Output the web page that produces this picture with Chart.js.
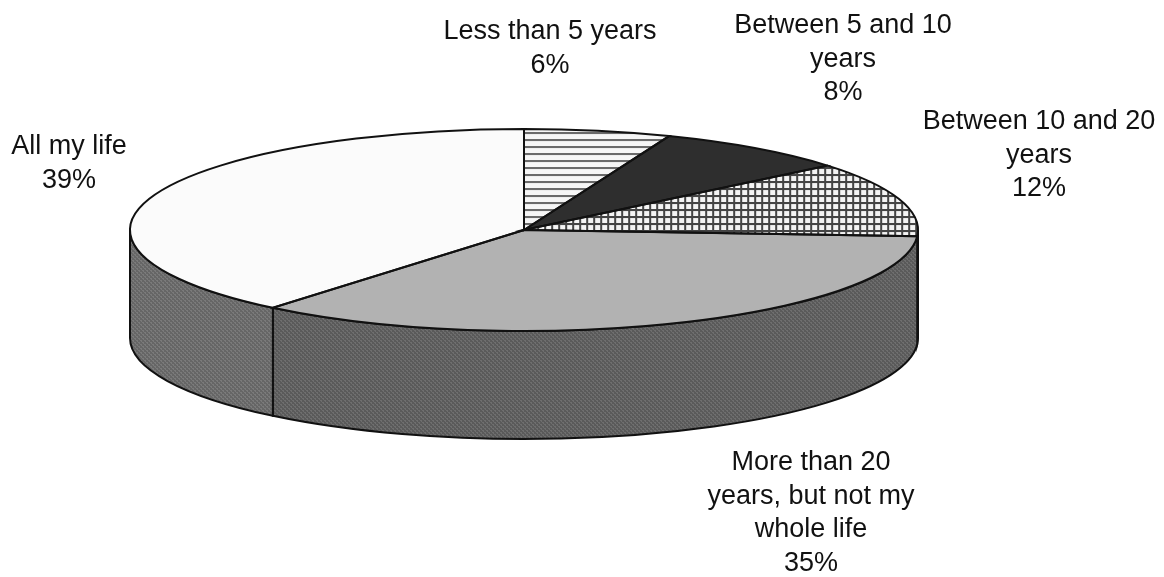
<!DOCTYPE html>
<html>
<head>
<meta charset="utf-8">
<script src="https://cdn.jsdelivr.net/npm/chart.js@4"></script>
<style>
  html, body { margin: 0; padding: 0; background: #fff; }
  canvas { display: block; filter: blur(0.5px); }
</style>
</head>
<body>
<canvas id="chart" width="1164" height="577"></canvas>
<script>
// -- DATA -- //
const categories = ['Less than 5 years', 'Between 5 and 10 years', 'Between 10 and 20 years', 'More than 20 years, but not my whole life', 'All my life']
const values = [6, 8, 12, 35, 39]
const labelLines = [
  ['Less than 5 years'],
  ['Between 5 and 10', 'years'],
  ['Between 10 and 20', 'years'],
  ['More than 20', 'years, but not my', 'whole life'],
  ['All my life']
]

// -- LAYOUT -- //
const labelAnchors = [[550, 32], [843, 26], [1039, 122], [811, 463], [69, 147]]
const lineHeight = 33.5
const ellipse = { x: 524, y: 230, rx: 394, ry: 101, depth: 108 }
const wallShades = [['#5a5a5a', '#6e6e6e'], ['#5a5a5a', '#6e6e6e'], ['#5a5a5a', '#6e6e6e'], ['#5a5a5a', '#6e6e6e'], ['#666666', '#7a7a7a']]

const canvas = document.getElementById('chart')
const ctx = canvas.getContext('2d')

// patterns get the inverse of the squash so lines stay square on the page
const makePattern = (size, paint, sx, sy) => {
  const tile = document.createElement('canvas')
  tile.width = tile.height = size
  paint(tile.getContext('2d'), size)
  const pattern = ctx.createPattern(tile, 'repeat')
  if (sx) pattern.setTransform(new DOMMatrix().scale(1 / sx, 1 / sy))
  return pattern
}

const radius = 577 / 2
const sx = ellipse.rx / radius
const sy = ellipse.ry / radius

const stripes = makePattern(7, (c, s) => {
  c.fillStyle = '#f6f6f6'; c.fillRect(0, 0, s, s)
  c.fillStyle = '#6a6a6a'; c.fillRect(0, 3, s, 2)
}, sx, sy)
const hatch = makePattern(7, (c, s) => {
  c.fillStyle = '#f4f4f4'; c.fillRect(0, 0, s, s)
  c.fillStyle = '#444'; c.fillRect(0, 3, s, 2); c.fillRect(3, 0, 2, s)
}, sx, sy)

// rough halftone of the scanned side wall
const wallPatterns = wallShades.map(([dark, light]) => makePattern(4, (c, s) => {
  c.fillStyle = dark; c.fillRect(0, 0, s, s)
  c.fillStyle = light; c.fillRect(0, 0, 2, 1); c.fillRect(2, 2, 2, 1); c.fillRect(1, 1, 1, 1); c.fillRect(3, 3, 1, 1)
}))

const toEllipse = (c, el) => {
  c.translate(ellipse.x, ellipse.y)
  c.scale(sx, sy)
  c.translate(-el.x, -el.y)
}

const wallPath = (c, a0, a1) => {
  c.beginPath()
  c.ellipse(ellipse.x, ellipse.y, ellipse.rx, ellipse.ry, 0, a0, a1)
  c.ellipse(ellipse.x, ellipse.y + ellipse.depth, ellipse.rx, ellipse.ry, 0, a1, a0, true)
  c.closePath()
}

const pie3d = {
  id: 'pie3d',
  beforeDatasetsDraw(chart) {
    const c = chart.ctx
    const arcs = chart.getDatasetMeta(0).data
    // side wall, only the front half of the ellipse shows
    arcs.forEach((el, i) => {
      const a0 = Math.max(el.startAngle, 0)
      const a1 = Math.min(el.endAngle, Math.PI)
      if (a1 <= a0) return
      wallPath(c, a0, a1)
      c.fillStyle = wallPatterns[i]
      c.fill()
      c.strokeStyle = '#111'
      c.lineWidth = 2
      c.stroke()
    })
    c.save()
    toEllipse(c, arcs[0])
  },
  afterDatasetsDraw(chart) {
    const c = chart.ctx
    const arcs = chart.getDatasetMeta(0).data
    c.restore()
    // outlines done in page space, so the squash does not distort the stroke
    c.strokeStyle = '#111'
    c.lineWidth = 2
    arcs.forEach(el => {
      c.beginPath()
      c.moveTo(ellipse.x, ellipse.y)
      c.ellipse(ellipse.x, ellipse.y, ellipse.rx, ellipse.ry, 0, el.startAngle, el.endAngle)
      c.closePath()
      c.stroke()
    })
  },
  afterDraw(chart) {
    const c = chart.ctx
    c.save()
    c.fillStyle = '#111'
    c.font = '27px "Liberation Sans", Arial, sans-serif'
    c.textAlign = 'center'
    c.textBaseline = 'middle'
    labelLines.forEach((lines, i) => {
      const [x, y] = labelAnchors[i]
      lines.concat(values[i] + '%').forEach((line, n) => c.fillText(line, x, y + n * lineHeight))
    })
    c.restore()
  }
}

new Chart(ctx, {
  type: 'pie',
  data: {
    labels: categories,
    datasets: [{
      data: values,
      backgroundColor: [stripes, '#2e2e2e', hatch, '#b2b2b2', '#fbfbfb'],
      borderWidth: 0
    }]
  },
  options: {
    responsive: false,
    animation: false,
    events: [],
    layout: { padding: 0 },
    plugins: { legend: { display: false }, tooltip: { enabled: false } }
  },
  plugins: [pie3d]
})
</script>
</body>
</html>
